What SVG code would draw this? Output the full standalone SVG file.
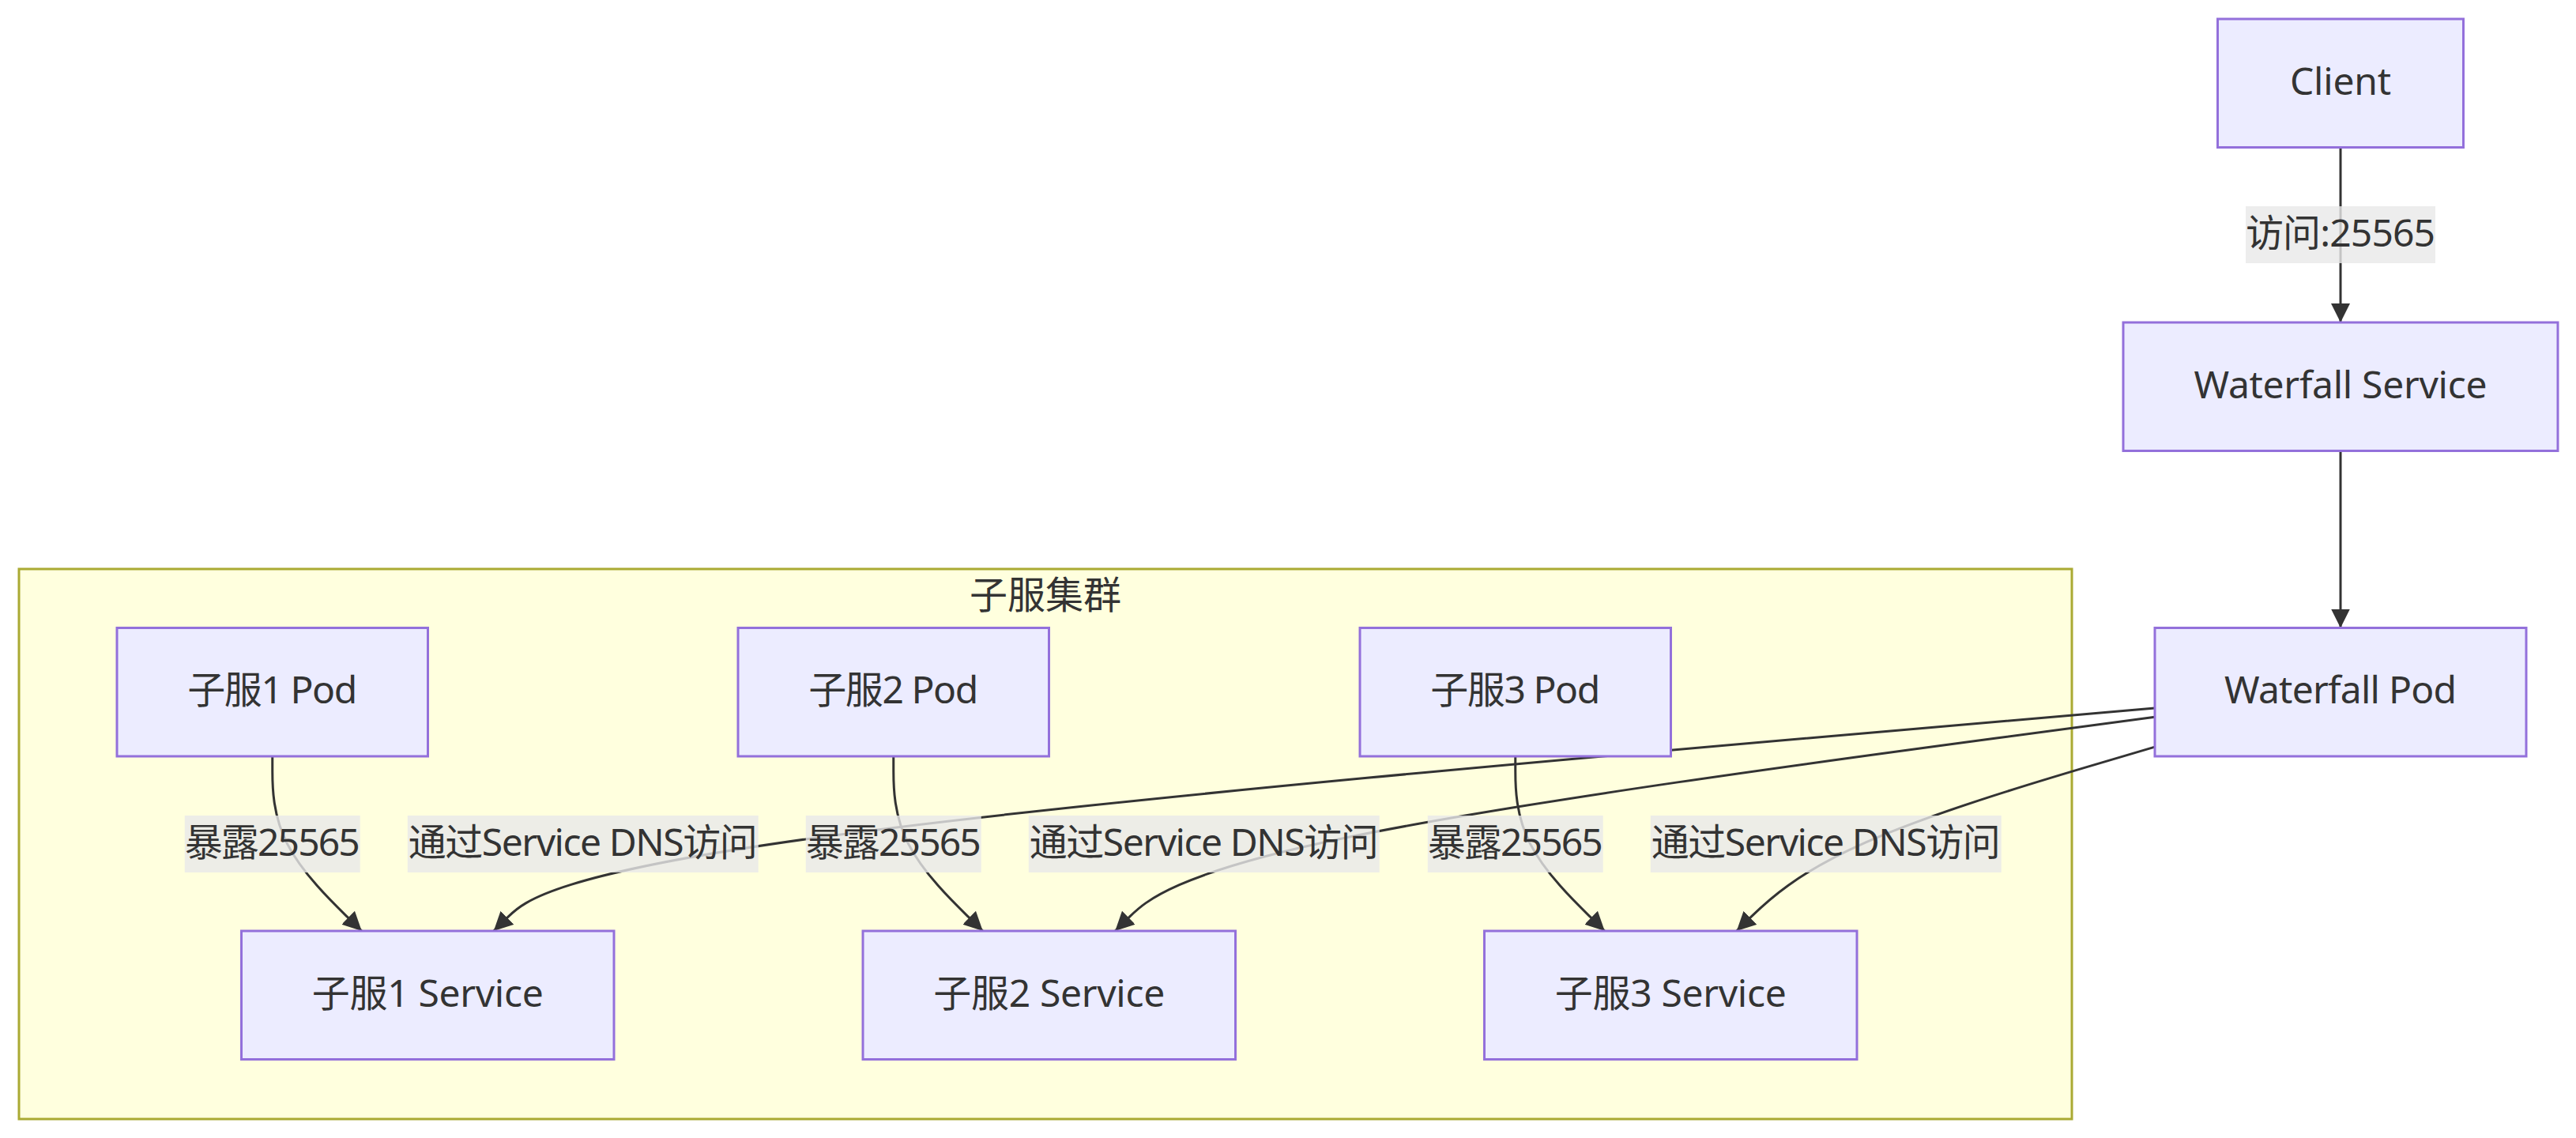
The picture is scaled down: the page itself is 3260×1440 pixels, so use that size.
<svg xmlns="http://www.w3.org/2000/svg" width="3260" height="1440" viewBox="0 0 3260 1440">
<style>
.node rect{fill:#ECECFF;stroke:#9370DB;stroke-width:3}
.t{font-family:"Noto Sans","Noto Sans CJK SC",sans-serif;font-size:48px;fill:#333333;text-anchor:middle}
.edge{fill:none;stroke:#333333;stroke-width:3}
.lbl rect{fill:#E8E8E8;fill-opacity:0.8}
.cluster rect{fill:#FFFFDE;stroke:#AAAA33;stroke-width:3}
</style>
<defs>
<marker id="arrow" viewBox="0 0 10 10" refX="10" refY="5" markerUnits="userSpaceOnUse" markerWidth="24" markerHeight="24" orient="auto">
<path d="M0,0 L10,5 L0,10 z" fill="#333333"/>
</marker>
</defs>
<rect x="0" y="0" width="3260" height="1440" fill="#FFFFFF"/>

<g id="cluster-subservers" class="cluster">
<rect x="24" y="720" width="2598" height="696"/>
<text class="t" x="1323" y="770">子服集群</text>
</g>

<g id="connectors">
<path class="edge" marker-end="url(#arrow)" d="M2962,186.5 L2962,408"/>
<path class="edge" marker-end="url(#arrow)" d="M2962,570.5 L2962,794.5"/>
<path class="edge" marker-end="url(#arrow)" d="M344.75,957 L344.75,975.5 C344.75,994 344.75,1031 363.59,1067.83 C382.42,1104.67 420.1,1141.33 438.93,1159.67 L457.77,1178"/>
<path class="edge" marker-end="url(#arrow)" d="M1130.75,957 L1130.75,975.5 C1130.75,994 1130.75,1031 1149.59,1067.83 C1168.42,1104.67 1206.1,1141.33 1224.93,1159.67 L1243.77,1178"/>
<path class="edge" marker-end="url(#arrow)" d="M1917.75,957 L1917.75,975.5 C1917.75,994 1917.75,1031 1936.59,1067.83 C1955.42,1104.67 1993.1,1141.33 2011.93,1159.67 L2030.77,1178"/>
<path class="edge" marker-end="url(#arrow)" d="M2727,896.06 L2395.46,924.72 C2063.92,953.37 1400.83,1010.69 1050.46,1057.68 C700.08,1104.67 662.4,1141.33 643.57,1159.67 L624.73,1178"/>
<path class="edge" marker-end="url(#arrow)" d="M2727,907.16 L2526.46,933.97 C2325.92,960.77 1924.83,1014.39 1705.54,1059.53 C1486.24,1104.67 1448.74,1141.33 1429.98,1159.67 L1411.23,1178"/>
<path class="edge" marker-end="url(#arrow)" d="M2727,945.12 L2657.63,965.6 C2588.25,986.08 2449.5,1027.04 2361.29,1065.85 C2273.08,1104.67 2235.4,1141.33 2216.57,1159.67 L2197.73,1178"/>
</g>

<g id="edge-labels">
<g class="lbl"><rect x="2842" y="261" width="240" height="72"/><text class="t" x="2962" y="311.5" textLength="240">访问:25565</text></g>
<g class="lbl"><rect x="233.75" y="1032" width="222" height="72"/><text class="t" x="344.75" y="1082.5" textLength="222">暴露25565</text></g>
<g class="lbl"><rect x="515.75" y="1032" width="444" height="72"/><text class="t" x="737.75" y="1082.5" textLength="442">通过Service DNS访问</text></g>
<g class="lbl"><rect x="1019.75" y="1032" width="222" height="72"/><text class="t" x="1130.75" y="1082.5" textLength="222">暴露25565</text></g>
<g class="lbl"><rect x="1301.75" y="1032" width="444" height="72"/><text class="t" x="1523.75" y="1082.5" textLength="442">通过Service DNS访问</text></g>
<g class="lbl"><rect x="1806.75" y="1032" width="222" height="72"/><text class="t" x="1917.75" y="1082.5" textLength="222">暴露25565</text></g>
<g class="lbl"><rect x="2088.75" y="1032" width="444" height="72"/><text class="t" x="2310.75" y="1082.5" textLength="442">通过Service DNS访问</text></g>
</g>

<g id="node-client" class="node"><rect x="2806.5" y="24" width="311" height="162.5"/><text class="t" x="2962" y="119.75" textLength="128">Client</text></g>
<g id="node-waterfall-service" class="node"><rect x="2687" y="408" width="550" height="162.5"/><text class="t" x="2962" y="503.75" textLength="371">Waterfall Service</text></g>
<g id="node-waterfall-pod" class="node"><rect x="2727" y="794.5" width="470" height="162.5"/><text class="t" x="2962" y="890.25" textLength="294">Waterfall Pod</text></g>
<g id="node-pod1" class="node"><rect x="148" y="794.5" width="393.5" height="162.5"/><text class="t" x="344.75" y="890.25" textLength="215">子服1 Pod</text></g>
<g id="node-pod2" class="node"><rect x="934" y="794.5" width="393.5" height="162.5"/><text class="t" x="1130.75" y="890.25" textLength="215">子服2 Pod</text></g>
<g id="node-pod3" class="node"><rect x="1721" y="794.5" width="393.5" height="162.5"/><text class="t" x="1917.75" y="890.25" textLength="215">子服3 Pod</text></g>
<g id="node-service1" class="node"><rect x="305.5" y="1178" width="471.5" height="162.5"/><text class="t" x="541.25" y="1273.75" textLength="293">子服1 Service</text></g>
<g id="node-service2" class="node"><rect x="1092" y="1178" width="471.5" height="162.5"/><text class="t" x="1327.75" y="1273.75" textLength="293">子服2 Service</text></g>
<g id="node-service3" class="node"><rect x="1878.5" y="1178" width="471.5" height="162.5"/><text class="t" x="2114.25" y="1273.75" textLength="293">子服3 Service</text></g>
</svg>
